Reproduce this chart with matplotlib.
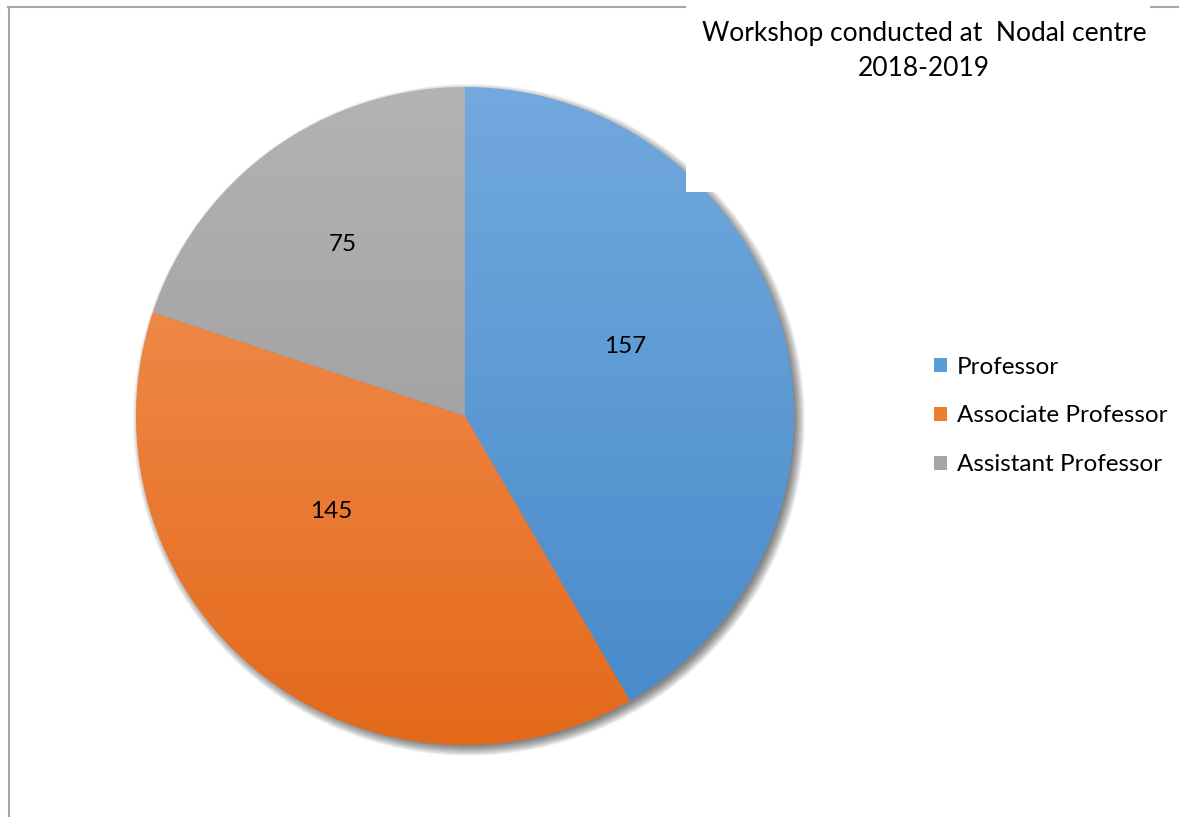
import numpy as np
import matplotlib
matplotlib.use('Agg')
import matplotlib.pyplot as plt
from matplotlib.colors import LinearSegmentedColormap
from matplotlib.patches import Circle, Rectangle
from matplotlib.lines import Line2D

plt.rcParams['font.family'] = ['Lato', 'DejaVu Sans']

# data
categories = ['Professor', 'Associate Professor', 'Assistant Professor']
values = [157, 145, 75]
title = 'Workshop conducted at  Nodal centre\n2018-2019'

# gradient colours (top, bottom) per slice
top_colors = ['#72a9de', '#f5975e', '#b3b3b3']
bot_colors = ['#4689ca', '#e4691a', '#949494']
legend_colors = ['#5b9bd5', '#ed7d31', '#a5a5a5']
# label placement (fraction of radius, angle in degrees)
label_r = [0.53, 0.50, 0.64]
label_ang = [23.6, -144.4, 125.6]

W, H = 1179, 817
fig = plt.figure(figsize=(W / 100, H / 100), dpi=100)

# pie axes: centre (465, 416) px, radius 330 px
cx, cy, rpx = 465, 416, 329
lim = 1.05
side = 2 * rpx * lim
ax = fig.add_axes([(cx - side / 2) / W, (H - cy - side / 2) / H, side / W, side / H])
ax.set_xlim(-lim, lim)
ax.set_ylim(-lim, lim)
ax.set_aspect('equal')
ax.axis('off')

# soft shadow, mostly towards bottom right
for i in range(12):
    ax.add_patch(Circle((0.012, -0.012), 0.99 + i * 0.0028, color='black',
                        alpha=0.05, lw=0, zorder=0))

wedges, _ = ax.pie(values, startangle=90, counterclock=False, radius=1.0,
                   wedgeprops=dict(linewidth=0))

for w, ct, cb in zip(wedges, top_colors, bot_colors):
    w.set_facecolor('none')
    cmap = LinearSegmentedColormap.from_list('g', [cb, ct])
    grad = np.linspace(0, 1, 256).reshape(-1, 1)
    im = ax.imshow(grad, cmap=cmap, extent=[-1, 1, -1, 1], origin='lower',
                   aspect='auto', zorder=1)
    im.set_clip_path(w)

for v, r, a in zip(values, label_r, label_ang):
    t = np.deg2rad(a)
    ax.text(r * np.cos(t), r * np.sin(t), str(v), ha='center', va='center',
            fontsize=17.5, color='black', zorder=3)

ax.set_xlim(-lim, lim)
ax.set_ylim(-lim, lim)

# chart border (top and left visible)
fig.add_artist(Line2D([8 / W, 1], [1 - 7 / H, 1 - 7 / H], color='#a6a6a6', lw=1.5))
fig.add_artist(Line2D([8.5 / W, 8.5 / W], [0, 1 - 7 / H], color='#a6a6a6', lw=1.5))

# white title box covering border
fig.add_artist(Rectangle((686 / W, 1 - 192 / H), (1150 - 686) / W, 192 / H,
                         transform=fig.transFigure, facecolor='white',
                         edgecolor='none', zorder=5))
fig.text(924 / W, 1 - 51 / H, title, ha='center', va='center', fontsize=19,
         linespacing=1.45, zorder=6)

handles = [Rectangle((0, 0), 1, 1, facecolor=c, edgecolor='none') for c in legend_colors]
fig.legend(handles, categories, loc='center left', bbox_to_anchor=(912 / W, 1 - 416 / H),
           frameon=False, fontsize=17.5, handlelength=0.55, handleheight=0.55,
           handletextpad=0.4, labelspacing=1.15)

fig.savefig('out.png', dpi=100)
